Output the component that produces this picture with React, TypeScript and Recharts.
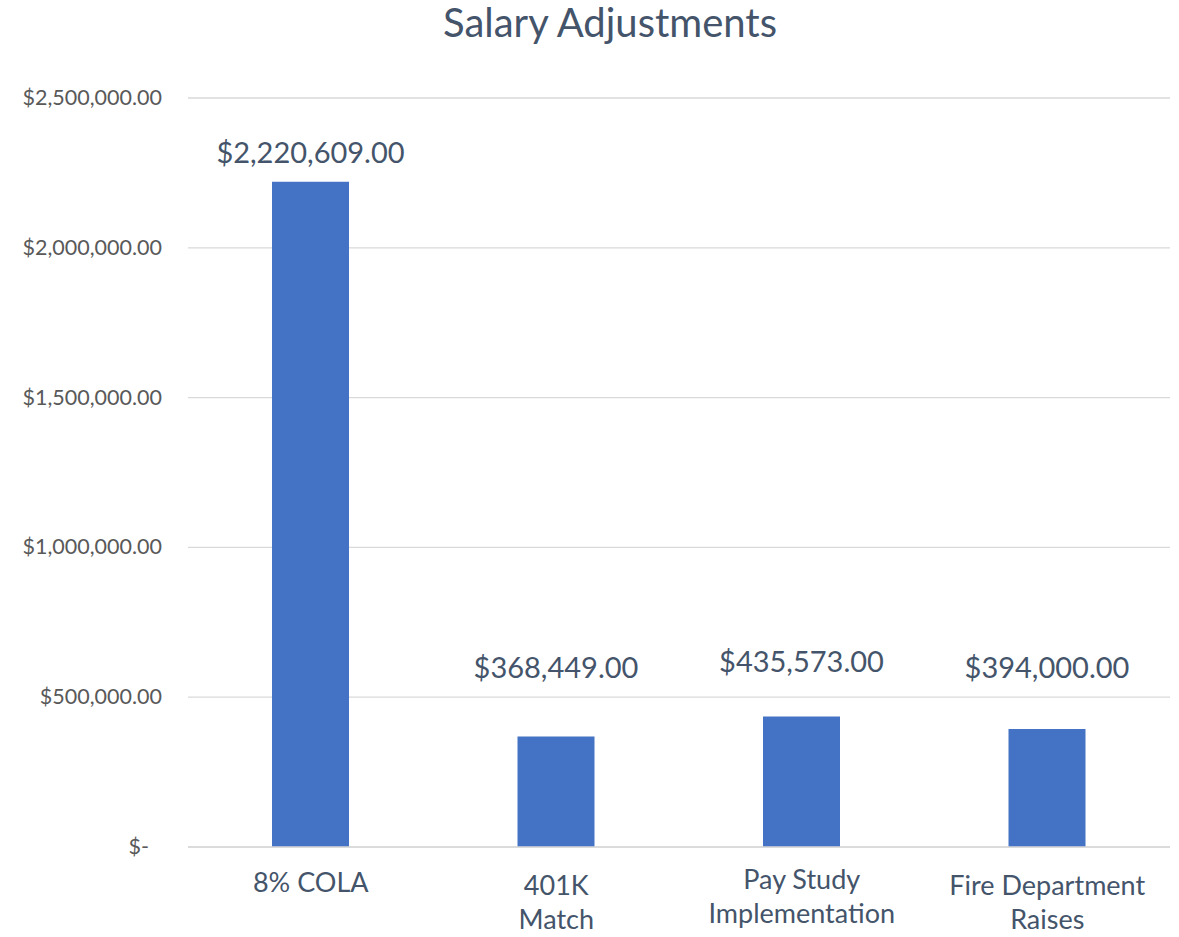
import React from 'react';
import { BarChart, Bar, XAxis, YAxis, CartesianGrid, LabelList } from 'recharts';

// Salary adjustment categories and amounts
const categories = ['8% COLA', '401K Match', 'Pay Study Implementation', 'Fire Department Raises'];
const categoryLines = [['8% COLA'], ['401K', 'Match'], ['Pay Study', 'Implementation'], ['Fire Department', 'Raises']];
const amounts = [2220609, 368449, 435573, 394000];
const yTicks = [0, 500000, 1000000, 1500000, 2000000, 2500000];

const chartData = categories.map((name, i) => ({ name, lines: categoryLines[i], value: amounts[i] }));

// label lift above bar top (labels were nudged by hand in the original)
const labelLift = [29, 69, 55, 61];

const FONT = 'Lato, "Open Sans", sans-serif';
const SLATE = '#44546A';

const money = (v: number) =>
  v === 0
    ? '$-'
    : '$' + v.toLocaleString('en-US', { minimumFractionDigits: 2, maximumFractionDigits: 2 });

const YTick = ({ x, y, payload }: any) => (
  <text
    x={payload.value === 0 ? x - 13 : x}
    y={y}
    dy={7}
    textAnchor="end"
    fontFamily={FONT}
    fontSize={21.5}
    fill="#595959"
  >
    {money(payload.value)}
  </text>
);

const XTick = ({ x, y, payload }: any) => {
  const lines = chartData[payload.index]?.lines ?? [payload.value];
  const first = lines.length > 1 ? (payload.index === 2 ? 34 : 40) : 37;
  return (
    <text x={x} y={y} textAnchor="middle" fontFamily={FONT} fontSize={27} fill={SLATE}>
      {lines.map((l: string, i: number) => (
        <tspan key={i} x={x} dy={i === 0 ? first : 34}>
          {l}
        </tspan>
      ))}
    </text>
  );
};

const ValueLabel = ({ x, y, width, value, index }: any) => (
  <text
    x={x + width / 2}
    y={y - labelLift[index]}
    dy={10}
    textAnchor="middle"
    fontFamily={FONT}
    fontSize={29}
    fill={SLATE}
  >
    {money(Number(value))}
  </text>
);

export default function App() {
  return (
    <div style={{ position: 'absolute', left: 0, top: 0, width: 1179, height: 937, background: '#fff' }}>
      <BarChart
        width={1179}
        height={937}
        data={chartData}
        margin={{ top: 98, right: 9, left: 0, bottom: 0 }}
        barSize={77}
      >
        <CartesianGrid vertical={false} stroke="#D9D9D9" strokeWidth={1.3} />
        <XAxis
          dataKey="name"
          interval={0}
          height={90}
          tick={<XTick />}
          tickLine={false}
          axisLine={{ stroke: '#D9D9D9', strokeWidth: 1.3 }}
        />
        <YAxis
          width={188}
          ticks={yTicks}
          domain={[0, 2500000]}
          tick={<YTick />}
          tickLine={false}
          axisLine={false}
          tickMargin={20}
        />
        <Bar dataKey="value" fill="#4472C4" isAnimationActive={false}>
          <LabelList dataKey="value" content={<ValueLabel />} />
        </Bar>
      </BarChart>
      <div
        style={{
          position: 'absolute',
          left: 0,
          top: 0,
          width: 1220,
          textAlign: 'center',
          fontFamily: FONT,
          fontSize: 40,
          lineHeight: '44px',
          color: SLATE,
        }}
      >
        Salary Adjustments
      </div>
    </div>
  );
}
